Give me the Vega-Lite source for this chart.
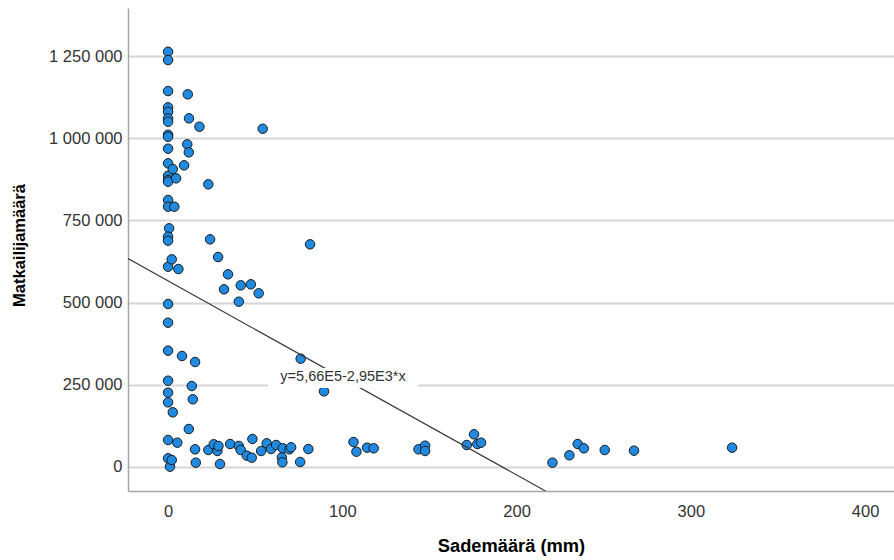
{
  "$schema": "https://vega.github.io/schema/vega-lite/v6.json",
  "width": 766,
  "height": 483,
  "autosize": {"type": "none"},
  "padding": {"left": 128, "top": 8, "right": 0, "bottom": 69},
  "background": "white",
  "config": {
    "view": {"stroke": null},
    "font": "Liberation Sans",
    "axis": {
      "labelFont": "Liberation Sans",
      "titleFont": "Liberation Sans",
      "labelFontSize": 16.5,
      "labelColor": "#333333",
      "titleColor": "#000000",
      "titleFontSize": 18.3,
      "titleFontWeight": "bold",
      "domainColor": "#a6a6a6",
      "domainWidth": 1.5,
      "ticks": false,
      "gridColor": "#d6d6d6",
      "gridWidth": 2
    }
  },
  "datasets": {
    "pts": [
      {"x":0,"y":1263000},{"x":0,"y":1237700},{"x":0,"y":1143400},{"x":0,"y":1093800},{"x":0,"y":1080500},{"x":0,"y":1060000},{"x":0,"y":1050000},{"x":0,"y":1010500},{"x":0,"y":1004400},{"x":0,"y":968000},{"x":0,"y":923500},{"x":0,"y":885800},{"x":0,"y":872800},{"x":0,"y":867600},{"x":0,"y":812000},{"x":0,"y":791600},{"x":0.6,"y":725900},{"x":0,"y":700400},{"x":0,"y":688200},{"x":0,"y":609200},{"x":0,"y":495700},{"x":0,"y":438800},{"x":0,"y":353700},{"x":0,"y":262400},{"x":0,"y":226000},{"x":0,"y":196700},{"x":0,"y":82100},{"x":0,"y":26500},{"x":1.1,"y":900},{"x":2.1,"y":21300},
      {"x":11.3,"y":1133400},{"x":12,"y":1060400},{"x":18,"y":1034900},{"x":54.3,"y":1028800},{"x":11,"y":981300},{"x":11.9,"y":957000},{"x":9.2,"y":917500},{"x":2.7,"y":906200},{"x":4.6,"y":877900},{"x":23.1,"y":859700},{"x":3.6,"y":791600},{"x":24.1,"y":692400},{"x":81.5,"y":677200},{"x":2.1,"y":631600},{"x":5.9,"y":602100},{"x":28.7,"y":638600},{"x":34.4,"y":586000},{"x":32.1,"y":540400},{"x":41.7,"y":552500},{"x":47.5,"y":555600},{"x":52,"y":528200},{"x":40.6,"y":502700},{"x":8,"y":337600},{"x":15.5,"y":319300},{"x":76.1,"y":329400},{"x":13.6,"y":246300},{"x":89.5,"y":230200},{"x":14.2,"y":205900},{"x":2.7,"y":166300},{"x":11.9,"y":115600},{"x":5.3,"y":73900},{"x":15.5,"y":53800},{"x":15.9,"y":13100},{"x":23.1,"y":51700},{"x":26.2,"y":69000},{"x":28.3,"y":48700},{"x":28.9,"y":63900},{"x":29.8,"y":9100},{"x":35.6,"y":69900},{"x":40.6,"y":63900},{"x":41.7,"y":51700},{"x":45.2,"y":34400},{"x":48,"y":28300},{"x":48.4,"y":85100},{"x":53.4,"y":48700},{"x":56.6,"y":72000},{"x":59.1,"y":54700},{"x":62,"y":66900},{"x":65.8,"y":56900},{"x":65.3,"y":29000},{"x":65.6,"y":14300},{"x":69.6,"y":53800},{"x":70.6,"y":59900},{"x":75.8,"y":15200},{"x":80.5,"y":54700},{"x":106.4,"y":76000},{"x":108.1,"y":46500},{"x":114.2,"y":58700},{"x":118,"y":56900},{"x":143.7,"y":53800},{"x":147.5,"y":64800},{"x":147.5,"y":48700},{"x":171.4,"y":66900},{"x":175.6,"y":99400},{"x":177.5,"y":69900},{"x":179.6,"y":73900},{"x":220.6,"y":13100},{"x":230.3,"y":35600},{"x":235.1,"y":69900},{"x":238.6,"y":56900},{"x":250.6,"y":51700},{"x":267.4,"y":49600},{"x":323.7,"y":58700}
    ],
    "fit": [
      {"x": -23, "y": 633850},
      {"x": 216.6, "y": -73000}
    ],
    "lbl": [
      {"x": 57.4, "x2": 143.5, "y": 301000, "y2": 240200, "cx": 100.4, "cy": 272500, "text": "y=5,66E5-2,95E3*x"}
    ]
  },
  "layer": [
    {
      "data": {"name": "pts"},
      "mark": {"type": "point", "shape": "circle", "filled": true, "size": 90, "fill": "#1f8ae0", "stroke": "#1a1a1a", "strokeWidth": 1, "opacity": 1},
      "encoding": {
        "x": {
          "field": "x", "type": "quantitative",
          "scale": {"domain": [-23, 416.6], "nice": false, "zero": false},
          "axis": {"values": [0, 100, 200, 300, 400], "grid": false, "title": "Sademäärä (mm)", "labelPadding": 12, "titlePadding": 18}
        },
        "y": {
          "field": "y", "type": "quantitative",
          "scale": {"domain": [-73000, 1396000], "nice": false, "zero": false},
          "axis": {
            "values": [0, 250000, 500000, 750000, 1000000, 1250000],
            "grid": true,
            "title": "Matkailijamäärä",
            "titleFontSize": 16.5,
            "titleY": 237,
            "labelPadding": 6,
            "titlePadding": 21,
            "labelExpr": "replace(format(datum.value, ','), regexp(',', 'g'), ' ')"
          }
        }
      }
    },
    {
      "data": {"name": "fit"},
      "mark": {"type": "line", "color": "#3a3a3a", "strokeWidth": 1.2, "clip": true},
      "encoding": {
        "x": {"field": "x", "type": "quantitative"},
        "y": {"field": "y", "type": "quantitative"}
      }
    },
    {
      "data": {"name": "lbl"},
      "mark": {"type": "rect", "fill": "white", "stroke": null},
      "encoding": {
        "x": {"field": "x", "type": "quantitative"},
        "x2": {"field": "x2"},
        "y": {"field": "y", "type": "quantitative"},
        "y2": {"field": "y2"}
      }
    },
    {
      "data": {"name": "lbl"},
      "mark": {"type": "text", "font": "Liberation Sans", "fontSize": 14.5, "color": "#333333", "align": "center", "baseline": "middle"},
      "encoding": {
        "x": {"field": "cx", "type": "quantitative"},
        "y": {"field": "cy", "type": "quantitative"},
        "text": {"field": "text"}
      }
    }
  ]
}
